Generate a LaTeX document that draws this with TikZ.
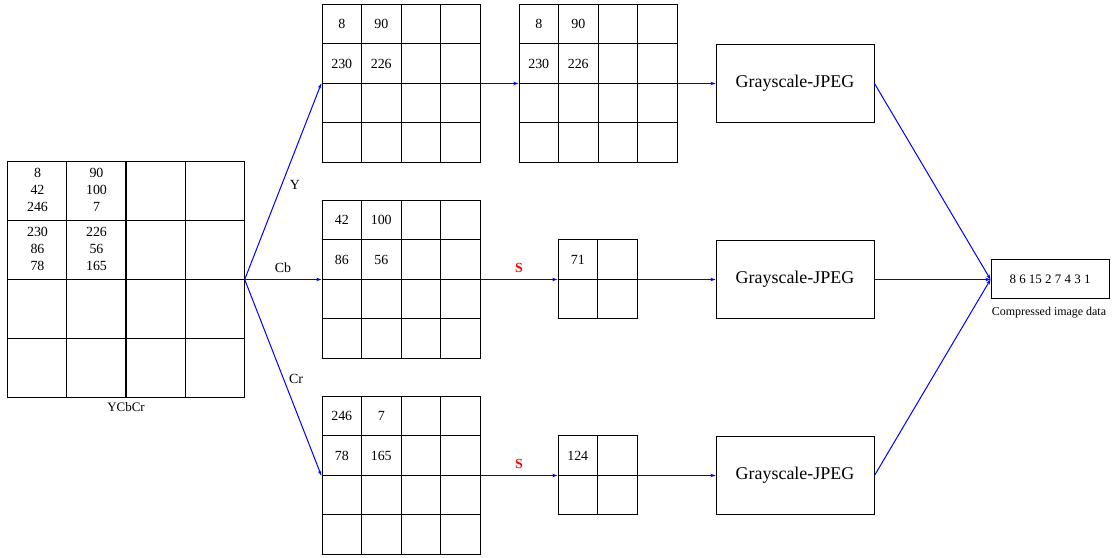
\documentclass[tikz,border=0pt]{standalone}
\usepackage{fontspec}
\setmainfont{Liberation Serif}
\usetikzlibrary{matrix}
\usetikzlibrary{arrows.meta}
\usetikzlibrary{positioning}
\definecolor{flowblue}{RGB}{0,0,255}
\definecolor{sred}{RGB}{255,0,0}
\newcommand{\tri}[3]{\begin{tabular}{@{}c@{}}#1\\#2\\#3\end{tabular}}

\tikzset{
  block/.style={matrix of nodes, nodes in empty cells, inner sep=0pt,
    column sep=-1bp, row sep=-1bp,
    nodes={draw, line width=1bp, minimum size=#1, inner sep=0pt, anchor=center}},
  jpgbox/.style={draw, line width=1bp, minimum width=158bp, minimum height=78bp, font=\fontsize{18}{21}\selectfont},
  flow/.style={color=flowblue, line width=1bp, -{Stealth[length=5bp,width=3.5bp]}},
  slabel/.style={text=sred, font=\fontsize{14}{16}\selectfont\bfseries},
}

\begin{document}
\begin{tikzpicture}[x=1bp, y=1bp, font=\fontsize{14}{17}\selectfont]
    \useasboundingbox (0,0) rectangle (1120,558);

    % input image
    \matrix (src) [block=59bp] at (126,278.5) {
      \tri{8}{42}{246} & \tri{90}{100}{7} & & \\
      \tri{230}{86}{78} & \tri{226}{56}{165} & & \\
      & & & \\
      & & & \\
    };
    \node[font=\fontsize{13}{15}\selectfont] (srclbl) at (126,151) {YCbCr};

    % Y channel
    \matrix (gy) [block=39.5bp] at (401,474.5) {
      8 & 90 & & \\
      230 & 226 & & \\
      & & & \\
      & & & \\
    };
    \matrix (gyy) [block=39.5bp] at (598,474.5) {
      8 & 90 & & \\
      230 & 226 & & \\
      & & & \\
      & & & \\
    };
    \node[jpgbox] (jy) at (795,474.5) {Grayscale-JPEG};

    % Cb channel
    \matrix (gcb) [block=39.5bp] at (401,278.5) {
      42 & 100 & & \\
      86 & 56 & & \\
      & & & \\
      & & & \\
    };
    \matrix (scb) [block=39.5bp] at (597.5,278.5) {
      71 & \\
      & \\
    };
    \node[jpgbox] (jcb) at (795,278.5) {Grayscale-JPEG};

    % Cr channel
    \matrix (gcr) [block=39.5bp] at (401,82.5) {
      246 & 7 & & \\
      78 & 165 & & \\
      & & & \\
      & & & \\
    };
    \matrix (scr) [block=39.5bp] at (597.5,82.5) {
      124 & \\
      & \\
    };
    \node[jpgbox] (jcr) at (795,82.5) {Grayscale-JPEG};

    % output
    \node[draw, line width=1bp, minimum width=118bp, minimum height=39bp, font=\fontsize{13}{15}\selectfont] (out) at (1050,278.5) {8 6 15 2 7 4 3 1};
    \node[font=\fontsize{12}{14}\selectfont] (outlbl) at (1049,245) {Compressed image data};

    % connectors
    \draw[flow] (src.east) -- (gy.west);
    \draw[flow] (src.east) -- (gcb.west);
    \draw[flow] (src.east) -- (gcr.west);
    \draw[flow] (gy.east) -- (gyy.west);
    \draw[flow] (gyy.east) -- (jy.west);
    \draw[flow] (gcb.east) -- (scb.west);
    \draw[flow] (scb.east) -- (jcb.west);
    \draw[flow] (gcr.east) -- (scr.west);
    \draw[flow] (scr.east) -- (jcr.west);
    \draw[flow] (jy.east) -- (out.west);
    \draw[flow] (jcb.east) -- (out.west);
    \draw[flow] (jcr.east) -- (out.west);

    \node (ly) at (295,373) {Y};
    \node (lcb) at (283,290) {Cb};
    \node (lcr) at (296,179) {Cr};
    \node[slabel] (scbl) at (519,290) {S};
    \node[slabel] (scrl) at (519,94) {S};
\end{tikzpicture}
\end{document}
